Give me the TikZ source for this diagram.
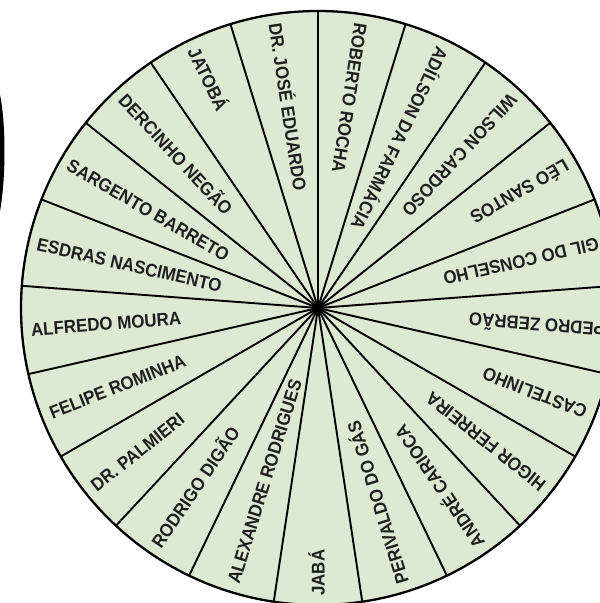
\documentclass[tikz,border=0pt]{standalone}
\usepackage{fontspec}
\setmainfont{Liberation Sans}
\usetikzlibrary{calc}
\definecolor{wheelfill}{HTML}{DDEAD3}
\definecolor{textdark}{HTML}{1E1E1E}
\tikzset{
  spoke/.style={line width=1.9pt, black},
  rim/.style={line width=2.3pt, black},
  lbl/.style={font=\bfseries\fontsize{18.4}{20}\selectfont, text=textdark, anchor=west, inner sep=0pt, text height=13.2pt, text depth=0pt},
}
\begin{document}
\begin{tikzpicture}[x=1pt,y=1pt]
\useasboundingbox (0,0) rectangle (600,603);
\clip (0,0) rectangle (600,603);
\coordinate (c) at (318,295);
\fill[wheelfill] (c) circle (297);
\foreach \k in {0,...,20} {
  \coordinate (r\k) at ($(c)+({90+\k*360/21}:297)$);
  \draw[spoke] (c) -- (r\k);
}
\draw[rim] (c) circle (297);
\fill[black] (c) circle (4);
\foreach \name [count=\k from 0] in {DR. JOSÉ EDUARDO, JATOBÁ, DERCINHO NEGÃO, SARGENTO BARRETO, ESDRAS NASCIMENTO, ALFREDO MOURA, FELIPE ROMINHA, DR. PALMIERI, RODRIGO DIGÃO, ALEXANDRE RODRIGUES, JABÁ, PERIVALDO DO GÁS, ANDRÉ CARIOCA, HIGOR FERREIRA, CASTELINHO, PEDRO ZEBRÃO, GIL DO CONSELHO, LÉO SANTOS, WILSON CARDOSO, ADÍLSON DA FARMÁCIA, ROBERTO ROCHA} {
  \pgfmathsetmacro\a{90+(\k+0.5)*360/21}
  \node[lbl, rotate=\a+180] (n\k) at ($(c)+(\a:288)$) {\scalebox{0.92}[1]{\name}};
}
% dark arc fragment at the left edge
\fill[black] (0,508) .. controls (6,480) and (6,425) .. (0,392) -- cycle;
\end{tikzpicture}
\end{document}
